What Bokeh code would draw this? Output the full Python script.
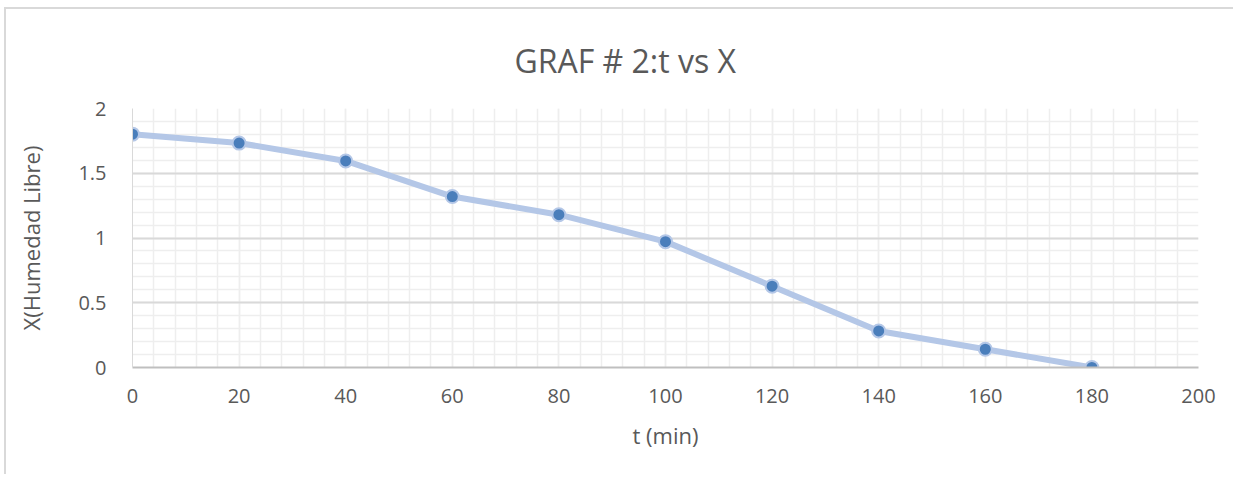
from bokeh.plotting import figure
from bokeh.models import SingleIntervalTicker, Range1d
from bokeh.embed import file_html
from bokeh.resources import INLINE

t_min = [0, 20, 40, 60, 80, 100, 120, 140, 160, 180]
x_humedad = [1.802, 1.733, 1.595, 1.32, 1.18, 0.972, 0.628, 0.282, 0.141, 0.0]
title_text = "GRAF # 2:t vs X"

TEXT = "#595959"
FONT = "Open Sans"

# figure placed 6px right / 9px down inside the page, with a light chart border on top/left
p = figure(width=1229, height=467, output_backend="svg", toolbar_location=None,
           x_range=Range1d(0, 200), y_range=Range1d(0, 2),
           min_border_left=126, min_border_right=37, min_border_top=98, min_border_bottom=109)
p.styles = {"border-top": "2px solid #d9d9d9", "border-left": "2px solid #d9d9d9",
            "margin-left": "4px", "margin-top": "7px"}

p.title.text = title_text
p.title.align = "left"
p.title.text_font = FONT
p.title.text_font_size = "32px"
p.title.text_font_style = "normal"
p.title.text_color = TEXT
p.title.offset = 382
p.title.standoff = 54

p.outline_line_color = None
p.background_fill_color = "white"
p.border_fill_color = "white"

# axes
p.xaxis.ticker = SingleIntervalTicker(interval=20, num_minor_ticks=5)
p.yaxis.ticker = SingleIntervalTicker(interval=0.5, num_minor_ticks=5)
for ax in (p.xaxis[0], p.yaxis[0]):
    ax.major_tick_line_color = None
    ax.minor_tick_line_color = None
    ax.major_label_text_font = FONT
    ax.major_label_text_font_size = "20px"
    ax.major_label_text_color = TEXT
    ax.axis_label_text_font = FONT
    ax.axis_label_text_font_size = "22px"
    ax.axis_label_text_font_style = "normal"
    ax.axis_label_text_color = TEXT
p.xaxis.axis_label = "t (min)"
p.yaxis.axis_label = "X(Humedad Libre)"
p.xaxis.axis_line_color = "#bfbfbf"
p.xaxis.axis_line_width = 2
p.yaxis.axis_line_color = "#d9d9d9"
p.yaxis.axis_line_width = 1
p.xaxis.major_label_standoff = 15
p.xaxis.axis_label_standoff = 14
p.yaxis.major_label_standoff = 20
p.yaxis.axis_label_standoff = 29

# grids
p.xgrid.grid_line_color = "#eeeeee"
p.xgrid.minor_grid_line_color = "#eeeeee"
p.xgrid.grid_line_width = 1.5
p.xgrid.minor_grid_line_width = 1.5
p.ygrid.grid_line_color = "#d9d9d9"
p.ygrid.grid_line_width = 2
p.ygrid.minor_grid_line_color = "#eeeeee"
p.ygrid.minor_grid_line_width = 1.5

p.line(t_min, x_humedad, line_color="#b4c7e7", line_width=6)
p.scatter(t_min, x_humedad, size=13, fill_color="#4a7ebb", line_color="#b4c7e7", line_width=2)

open("out.html", "w").write(file_html(p, INLINE))
